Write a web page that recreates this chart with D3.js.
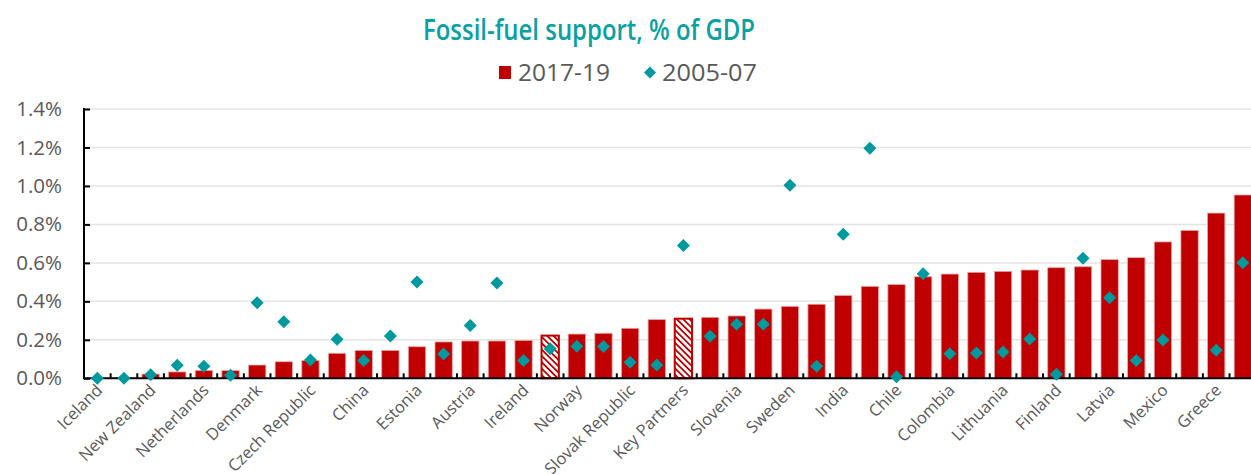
<!DOCTYPE html>
<html>
<head>
<meta charset="utf-8">
<script src="https://cdn.jsdelivr.net/npm/d3@7/dist/d3.min.js"></script>
<style>
  body { margin: 0; background: #fff; }
  svg { display: block; font-family: "Open Sans", "DejaVu Sans", sans-serif; }
</style>
</head>
<body>
<div id="chart"></div>
<script>
const countries = [
  "Iceland", "Israel", "New Zealand", "Japan", "Netherlands", "Switzerland",
  "Denmark", "Korea", "Czech Republic", "Luxembourg", "China", "Portugal",
  "Estonia", "Spain", "Austria", "Poland", "Ireland", "OECD",
  "Norway", "United Kingdom", "Slovak Republic", "Hungary", "Key Partners", "Brazil",
  "Slovenia", "Germany", "Sweden", "Indonesia", "India", "France",
  "Chile", "South Africa", "Colombia", "United States", "Lithuania", "Turkey",
  "Finland", "Italy", "Latvia", "Belgium", "Mexico", "Canada",
  "Greece", "Australia"
];
const hatched = ["OECD", "Key Partners"];

// 2017-19 average, % of GDP
const support1719 = [
  0.0, 0.003, 0.022, 0.033, 0.041, 0.040,
  0.069, 0.086, 0.092, 0.130, 0.145, 0.145,
  0.164, 0.189, 0.194, 0.194, 0.197, 0.222,
  0.230, 0.234, 0.260, 0.305, 0.310, 0.317,
  0.324, 0.360, 0.374, 0.385, 0.430, 0.478,
  0.487, 0.528, 0.542, 0.551, 0.556, 0.563,
  0.575, 0.580, 0.617, 0.627, 0.709, 0.769,
  0.859, 0.953
];
// 2005-07 average, % of GDP (null = not available)
const support0507 = [
  0.0, 0.0, 0.019, 0.068, 0.062, 0.016,
  0.393, 0.294, 0.095, 0.203, 0.092, 0.220,
  0.500, 0.126, 0.274, 0.495, 0.092, 0.154,
  0.166, 0.165, 0.083, 0.069, 0.691, 0.218,
  0.281, 0.281, 1.003, 0.062, 0.749, 1.196,
  0.008, 0.544, 0.128, 0.131, 0.137, 0.204,
  0.021, 0.624, 0.419, 0.092, 0.199, null,
  0.146, 0.601
];
const yTicks = [0, 0.2, 0.4, 0.6, 0.8, 1.0, 1.2, 1.4];
const legendLabels = ["2017-19", "2005-07"];

const width = 1251, height = 474;
const barColor = "#c00000", dotColor = "#00999e", textColor = "#595959";

const svg = d3.select("#chart").append("svg")
    .attr("width", width)
    .attr("height", height);

const x = d3.scaleBand()
    .domain(countries)
    .range([84, 84 + 26.64 * countries.length])
    .paddingInner(0.35)
    .paddingOuter(0.175);

const y = d3.scaleLinear()
    .domain([0, 1.4])
    .range([378.3, 109]);

// hatch pattern for aggregates
const defs = svg.append("defs");
defs.append("pattern")
    .attr("id", "hatch")
    .attr("patternUnits", "userSpaceOnUse")
    .attr("width", 4.5)
    .attr("height", 4.5)
    .attr("patternTransform", "rotate(-45)")
    .call(p => {
        p.append("rect").attr("width", 4.5).attr("height", 4.5).attr("fill", "#fff");
        p.append("rect").attr("width", 1.8).attr("height", 4.5).attr("fill", barColor);
    });

// gridlines
svg.append("g")
    .selectAll("line")
    .data(yTicks.filter(d => d > 0))
    .join("line")
    .attr("x1", 84)
    .attr("x2", width)
    .attr("y1", d => y(d))
    .attr("y2", d => y(d))
    .attr("stroke", "#e4e4e4")
    .attr("stroke-width", 1.5);

// y axis
const yAxis = svg.append("g")
    .attr("transform", "translate(84,0)")
    .call(d3.axisRight(y).tickValues(yTicks).tickSize(6).tickFormat(d => d.toFixed(1) + "%"));
yAxis.select(".domain").remove();
yAxis.selectAll(".tick line").attr("stroke", "#000").attr("stroke-width", 2);
yAxis.selectAll(".tick text")
    .attr("x", -22)
    .attr("text-anchor", "end")
    .attr("fill", textColor)
    .attr("font-size", 20.5)
    .attr("font-family", "\"Open Sans\", sans-serif");
svg.append("line")
    .attr("x1", 84).attr("x2", 84)
    .attr("y1", y(1.4) - 1).attr("y2", y(0) + 1)
    .attr("stroke", "#000").attr("stroke-width", 2);

// bars
const rows = countries.map((c, i) => ({ name: c, v: support1719[i], old: support0507[i] }));

svg.append("g")
    .selectAll("rect")
    .data(rows)
    .join("rect")
    .attr("x", d => x(d.name))
    .attr("width", x.bandwidth())
    .attr("y", d => y(d.v))
    .attr("height", d => y(0) - y(d.v))
    .attr("fill", d => hatched.includes(d.name) ? "url(#hatch)" : barColor)
    .attr("stroke", d => hatched.includes(d.name) ? barColor : "#eba4a4")
    .attr("stroke-width", d => hatched.includes(d.name) ? 2 : 0.8);

// x axis line and ticks at category boundaries
svg.append("line")
    .attr("x1", 84).attr("x2", width)
    .attr("y1", y(0)).attr("y2", y(0))
    .attr("stroke", "#000").attr("stroke-width", 2);

const step = x.step();
svg.append("g")
    .selectAll("line")
    .data(countries.slice(1))
    .join("line")
    .attr("x1", d => x(d) - (step - x.bandwidth()) / 2)
    .attr("x2", d => x(d) - (step - x.bandwidth()) / 2)
    .attr("y1", y(0))
    .attr("y2", y(0) - 5)
    .attr("stroke", "#000")
    .attr("stroke-width", 2);

// x labels, every other country
svg.append("g")
    .selectAll("text")
    .data(countries.filter((c, i) => i % 2 === 0))
    .join("text")
    .attr("transform", d => `translate(${x(d) + x.bandwidth() / 2 + 6},${y(0) + 13}) rotate(-45)`)
    .attr("text-anchor", "end")
    .attr("fill", textColor)
    .attr("font-size", 16.5)
    .text(d => d);

// diamonds
const diamond = s => `M0,${-s}L${s},0L0,${s}L${-s},0Z`;
svg.append("g")
    .selectAll("path")
    .data(rows.filter(d => d.old !== null))
    .join("path")
    .attr("transform", d => `translate(${x(d.name) + x.bandwidth() / 2},${y(d.old)})`)
    .attr("d", diamond(6.5))
    .attr("fill", dotColor);

// title
svg.append("text")
    .attr("x", 589)
    .attr("y", 40)
    .attr("text-anchor", "middle")
    .attr("fill", "#0aa0a4")
    .attr("font-size", 29)
    .attr("font-weight", 600)
    .attr("textLength", 332)
    .attr("lengthAdjust", "spacingAndGlyphs")
    .text("Fossil-fuel support, % of GDP");

// legend
const legend = svg.append("g");
legend.append("rect")
    .attr("x", 499).attr("y", 66).attr("width", 12).attr("height", 13)
    .attr("fill", barColor);
legend.append("text")
    .attr("x", 518).attr("y", 80.5)
    .attr("fill", textColor).attr("font-size", 23)
    .attr("textLength", 92)
    .attr("lengthAdjust", "spacingAndGlyphs")
    .text(legendLabels[0]);
legend.append("path")
    .attr("transform", "translate(650,72.5)")
    .attr("d", diamond(6))
    .attr("fill", dotColor);
legend.append("text")
    .attr("x", 662).attr("y", 80.5)
    .attr("fill", textColor).attr("font-size", 23)
    .attr("textLength", 95)
    .attr("lengthAdjust", "spacingAndGlyphs")
    .text(legendLabels[1]);
</script>
</body>
</html>
